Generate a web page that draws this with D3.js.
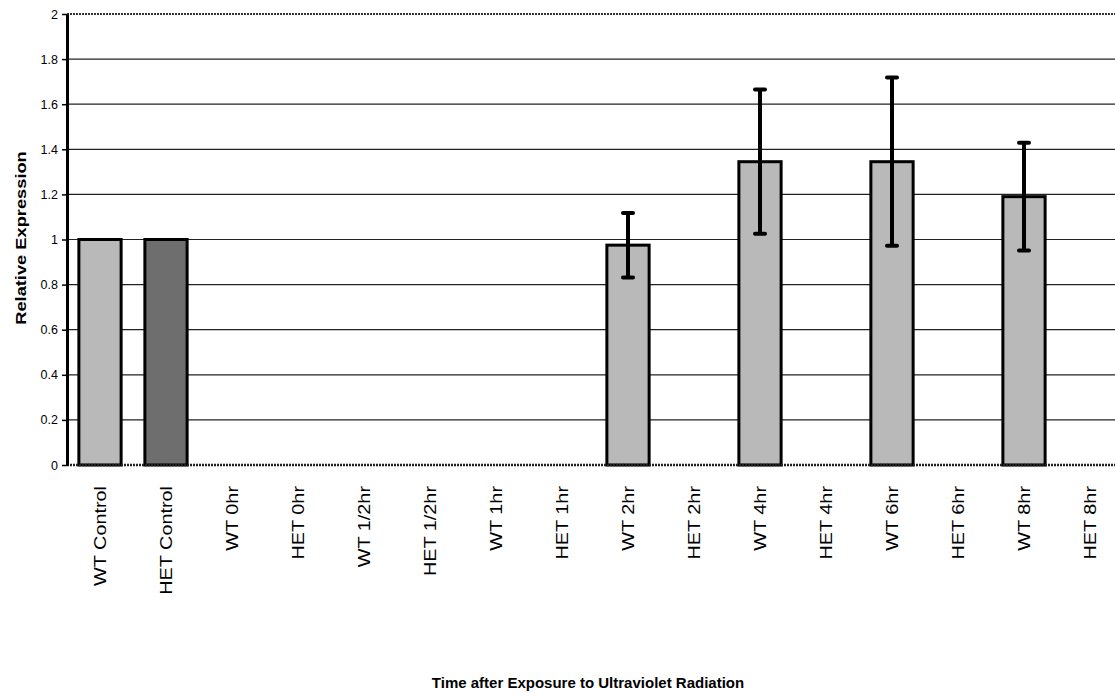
<!DOCTYPE html>
<html><head><meta charset="utf-8">
<script src="https://cdn.jsdelivr.net/npm/d3@7"></script>
<style>body{margin:0;background:#fff}svg{display:block}text{font-family:"Liberation Sans",Arial,sans-serif}</style>
</head><body><svg id="c" width="1115" height="696"></svg>
<script>
const categories = ["WT Control","HET Control","WT 0hr","HET 0hr","WT 1/2hr","HET 1/2hr","WT 1hr","HET 1hr","WT 2hr","HET 2hr","WT 4hr","HET 4hr","WT 6hr","HET 6hr","WT 8hr","HET 8hr"];
const values = [1, 1, null, null, null, null, null, null, 0.975, null, 1.345, null, 1.345, null, 1.19, null];
const errors = [0, 0, 0, 0, 0, 0, 0, 0, 0.143, 0, 0.32, 0, 0.373, 0, 0.239, 0];
const yTicks = [0, 0.2, 0.4, 0.6, 0.8, 1, 1.2, 1.4, 1.6, 1.8, 2];
const yTitle = "Relative Expression";
const xTitle = "Time after Exposure to Ultraviolet Radiation";

const svg = d3.select("#c");
const L = 67, T = 14, B = 465;
const x = d3.scaleBand().domain(categories).range([L, L + 16 * 66]).paddingInner(0.36).paddingOuter(0.18);
const y = d3.scaleLinear().domain([0, 2]).range([B, T]);
const fillFor = c => c.startsWith("HET") ? "#6e6e6e" : "#b9b9b9";

// gridlines
svg.append("g").selectAll("line").data(yTicks.filter(t => t > 0 && t < 2)).join("line")
  .attr("x1", L).attr("x2", 1115).attr("y1", d => y(d)).attr("y2", d => y(d))
  .attr("stroke", "#222").attr("stroke-width", 1.2);
// top border
svg.append("line").attr("x1", L).attr("x2", 1115).attr("y1", y(2)).attr("y2", y(2))
  .attr("stroke", "#333").attr("stroke-width", 2).attr("stroke-dasharray", "2,1");

// bars
const data = categories.map((c, i) => ({c, v: values[i], e: errors[i]})).filter(d => d.v != null);
svg.append("g").selectAll("rect").data(data).join("rect")
  .attr("x", d => x(d.c)).attr("width", x.bandwidth())
  .attr("y", d => y(d.v)).attr("height", d => y(0) - y(d.v))
  .attr("fill", d => fillFor(d.c)).attr("stroke", "#000").attr("stroke-width", 3);

// error bars
const eb = svg.append("g").selectAll("g").data(data.filter(d => d.e > 0)).join("g");
eb.append("line").attr("x1", d => x(d.c) + x.bandwidth() / 2).attr("x2", d => x(d.c) + x.bandwidth() / 2)
  .attr("y1", d => y(d.v + d.e)).attr("y2", d => y(d.v - d.e)).attr("stroke", "#000").attr("stroke-width", 4);
[1, -1].forEach(s => {
  eb.append("line").attr("x1", d => x(d.c) + x.bandwidth() / 2 - 5).attr("x2", d => x(d.c) + x.bandwidth() / 2 + 5)
    .attr("y1", d => y(d.v + s * d.e)).attr("y2", d => y(d.v + s * d.e))
    .attr("stroke", "#000").attr("stroke-width", 4).attr("stroke-linecap", "round");
});

// x axis line
svg.append("line").attr("x1", L).attr("x2", 1115).attr("y1", B).attr("y2", B)
  .attr("stroke", "#222").attr("stroke-width", 2.5).attr("stroke-dasharray", "2,1");

// y axis
const ya = svg.append("g").attr("transform", `translate(${L},0)`)
  .call(d3.axisLeft(y).tickValues(yTicks).tickSize(5).tickSizeOuter(0).tickPadding(4).tickFormat(d => String(+d.toFixed(1))));
ya.select(".domain").attr("stroke", "#000").attr("stroke-width", 3);
ya.selectAll(".tick line").attr("stroke", "#000").attr("stroke-width", 1.5);
ya.selectAll(".tick text").attr("font-size", 12.5).attr("fill", "#000")
  .attr("font-family", "Liberation Sans, Arial, sans-serif");

// x labels
svg.append("g").selectAll("text").data(categories).join("text")
  .attr("transform", d => `translate(${x(d) + x.bandwidth() / 2 + 6},486) rotate(-90) scale(1.24,1)`)
  .attr("text-anchor", "end").attr("font-size", 16).attr("fill", "#000").text(d => d);

// titles
svg.append("text").attr("transform", "translate(26,238) rotate(-90) scale(1.26,1)")
  .attr("text-anchor", "middle").attr("font-size", 14.5).attr("font-weight", "bold").text(yTitle);
svg.append("text").attr("x", 588).attr("y", 688).attr("text-anchor", "middle")
  .attr("font-size", 15).attr("font-weight", "bold").text(xTitle);
</script></body></html>
